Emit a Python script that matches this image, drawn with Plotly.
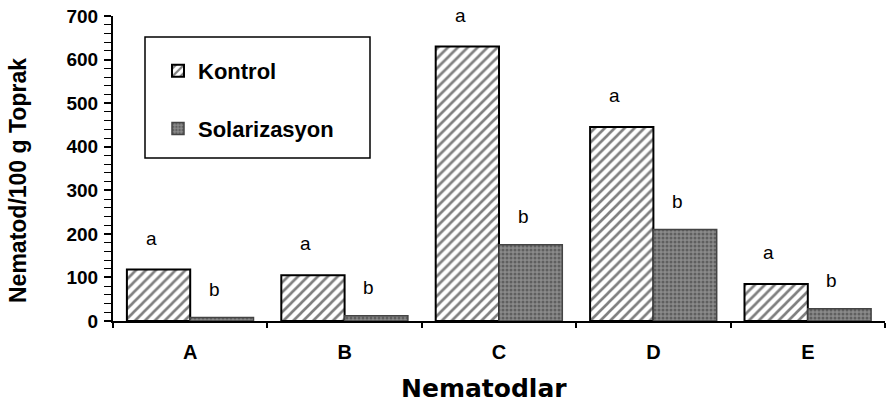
import plotly.graph_objects as go

categories = ["A", "B", "C", "D", "E"]
kontrol = [118, 105, 630, 445, 85]
solarizasyon = [8, 12, 175, 210, 28]
kontrol_letters = ["a", "a", "a", "a", "a"]
solar_letters = ["b", "b", "b", "b", "b"]
y_ticks = [0, 100, 200, 300, 400, 500, 600, 700]

FONT = "Liberation Sans, Arial, sans-serif"

fig = go.Figure()
fig.add_trace(go.Bar(
    x=categories, y=kontrol, name="Kontrol", legendgroup="k",
    marker=dict(color="white", line=dict(color="black", width=2),
                pattern=dict(shape="/", fgcolor="black", size=7, solidity=0.38)),
    offsetgroup="k",
))
fig.add_trace(go.Bar(
    x=categories, y=solarizasyon, name="Solarizasyon", legendgroup="s",
    marker=dict(color="#7a7a7a", line=dict(color="#444444", width=1.5),
                pattern=dict(shape=".", fgcolor="#333333", bgcolor="#8a8a8a", size=4, solidity=0.45)),
    offsetgroup="s",
))

for i, c in enumerate(categories):
    fig.add_annotation(x=c, y=kontrol[i], text=kontrol_letters[i], showarrow=False,
                       xshift=-39, yshift=19, yanchor="bottom",
                       font=dict(family=FONT, size=19, color="black"))
    fig.add_annotation(x=c, y=solarizasyon[i], text=solar_letters[i], showarrow=False,
                       xshift=24, yshift=16, yanchor="bottom",
                       font=dict(family=FONT, size=19, color="black"))

# axis titles placed as annotations (offset as in the original)
fig.add_annotation(xref="paper", yref="paper", x=0.48, y=-0.22, text="Nematodlar",
                   showarrow=False, xanchor="center", yanchor="middle",
                   font=dict(family="DejaVu Sans, sans-serif", size=25, weight="bold", color="black"))
fig.add_annotation(xref="paper", yref="paper", x=(18 - 113) / 772, y=(321 - 181) / 305,
                   text="Nematod/100 g Toprak", textangle=-90,
                   showarrow=False, xanchor="center", yanchor="middle",
                   font=dict(family=FONT, size=23, weight="bold", color="black"))

# legend frame
fig.add_shape(type="rect", xref="paper", yref="paper",
              x0=(145 - 113) / 772, x1=(370 - 113) / 772,
              y0=(321 - 158) / 305, y1=(321 - 37) / 305,
              line=dict(color="black", width=1.5), fillcolor="rgba(0,0,0,0)", layer="above")

fig.update_layout(
    width=889, height=414,
    margin=dict(l=113, r=4, t=16, b=93),
    plot_bgcolor="white", paper_bgcolor="white",
    barmode="group", bargap=0.18, bargroupgap=0,
    font=dict(family=FONT, color="black"),
    legend=dict(x=(158 - 113) / 772, y=(321 - 50) / 305, xanchor="left", yanchor="top",
                bgcolor="rgba(0,0,0,0)", borderwidth=0,
                font=dict(family=FONT, size=22, color="black", weight="bold"),
                tracegroupgap=26, itemwidth=30),
    showlegend=True,
)
fig.update_xaxes(
    automargin=False,
    showline=True, linecolor="black", linewidth=2,
    ticks="outside", tickson="boundaries", ticklen=5, tickcolor="black", tickwidth=2,
    tickfont=dict(family=FONT, size=20, weight="bold"),
    ticklabelstandoff=12,
    showgrid=False,
)
fig.update_yaxes(
    automargin=False,
    range=[0, 700], tickvals=y_ticks,
    showline=True, linecolor="black", linewidth=2,
    ticks="outside", ticklen=7, tickcolor="black", tickwidth=1.5,
    minor=dict(dtick=20, ticks="outside", ticklen=7, tickcolor="black", tickwidth=1.2),
    tickfont=dict(family=FONT, size=19, weight="bold"),
    ticklabelstandoff=2,
    showgrid=False, zeroline=False,
)

fig.write_html("out.html", config={"displayModeBar": False},
               post_script="document.body.style.margin='0px';")
